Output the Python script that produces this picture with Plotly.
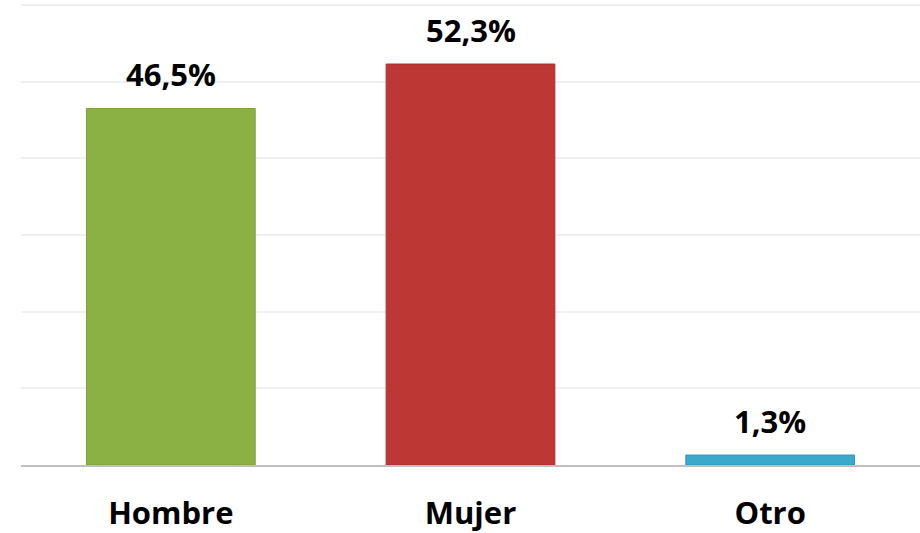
import plotly.graph_objects as go

categories = ["Hombre", "Mujer", "Otro"]
values = [46.5, 52.3, 1.3]
labels = ["46,5%", "52,3%", "1,3%"]
colors = ["#8BB044", "#BD3835", "#3AA9CC"]
line_colors = ["#7F9F3E", "#A8322F", "#3399BA"]

fig = go.Figure()
fig.add_trace(go.Bar(
    x=categories, y=values,
    marker=dict(color=colors, line=dict(color=line_colors, width=1)),
    hoverinfo="skip",
))

for c, v, t in zip(categories, values, labels):
    fig.add_annotation(x=c, y=v, text=t, showarrow=False, yanchor="bottom",
                       yshift=11, font=dict(family="Open Sans", size=31, color="#000000", weight="bold"))

fig.update_layout(
    width=920, height=533,
    margin=dict(l=21, r=0, t=3, b=68),
    plot_bgcolor="white", paper_bgcolor="white",
    bargap=0.437, showlegend=False,
    font=dict(family="Open Sans", size=31, color="#000000"),
)
fig.update_xaxes(showline=True, linecolor="#BFBFBF", linewidth=2, ticks="",
                 tickfont=dict(family="Open Sans", size=31, color="#000000", weight="bold"),
                 ticklabelstandoff=20)
fig.update_yaxes(range=[0, 60.26], tick0=0, dtick=10, showgrid=True, gridcolor="#EFEFEF", gridwidth=2,
                 showticklabels=False, zeroline=False)

fig.write_html("out.html", post_script="document.body.style.margin='0';",
               config={"displayModeBar": False})
